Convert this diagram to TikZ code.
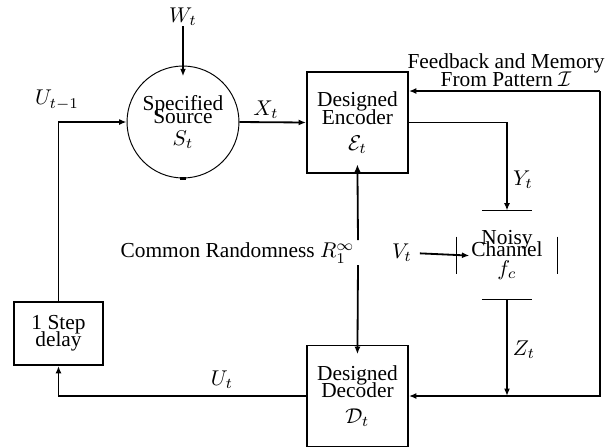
\documentclass[tikz,border=0pt]{standalone}
\usepackage[no-math]{fontspec}
\setmainfont{Liberation Serif}
\usetikzlibrary{arrows.meta,calc}
\begin{document}
\begin{tikzpicture}[x=0.468pt,y=-0.468pt,
  box/.style={draw,line width=0.85pt,minimum width=47.3pt,minimum height=47.3pt,inner sep=0pt,align=center},
  arr/.style={line width=0.85pt,-{Latex[length=3.5pt,width=2.8pt]}},
  lbl/.style={inner sep=0pt,align=center},
  ln/.style={line width=0.85pt}]
\useasboundingbox (0,0) rectangle (615,447);
\node[circle,draw,line width=0.45pt,minimum size=52.4pt,inner sep=0pt,align=center] (src) at (183,122) {Specified\\[-6pt]Source\\[-2pt]$S_t$};
\node[box] (enc) at (357.5,122.5) {Designed\\[-3.6pt]Encoder\\$\mathcal{E}_t$};
\node[box] (dec) at (357.5,396) {Designed\\[-3.6pt]Decoder\\$\mathcal{D}_t$};
\node[draw,line width=0.85pt,minimum width=41.7pt,minimum height=29.5pt,inner sep=0pt,align=center] (dl) at (58.5,333.5) {1 Step\\[-4pt]delay};
\node[minimum width=46.8pt,minimum height=41.2pt,inner sep=0pt,align=center] (ch) at (507,255) {Noisy\\[-6.4pt]Channel\\[-3pt]$f_c$};
\draw[ln] ($(ch.north)+(-25,0)$) -- ($(ch.north)+(25,0)$);
\draw[ln] ($(ch.south)+(-25,0)$) -- ($(ch.south)+(25,0)$);
\draw[ln] ($(ch.west)+(0,-18.5)$) -- ($(ch.west)+(0,18.5)$);
\draw[ln] ($(ch.east)+(0,-18.5)$) -- ($(ch.east)+(0,18.5)$);
\node[lbl] (wl) at (183,17) {$W_t$};
\node[lbl] (xl) at (266,110) {$X_t$};
\node[lbl] (ul) at (57,100) {$U_{t-1}$};
\node[lbl] (utl) at (222,380) {$U_t$};
\node[lbl] (yl) at (523,180) {$Y_t$};
\node[lbl] (zl) at (524,350) {$Z_t$};
\node[lbl] (vl) at (402,253) {$V_t$};
\node[lbl,anchor=east] (crl) at (355,253) {Common Randomness $R_1^\infty$};
\node[lbl] (fbl) at (506,70) {Feedback and Memory\\[-3.6pt]From Pattern $\mathcal{I}$};
\coordinate (fbt) at (600,91);
\coordinate (cru) at (358,240);
\coordinate (crd) at (358,265);
\draw[arr,shorten >=-5pt] (wl.south) -- (src.north);
\draw[arr] (src.east) -- (enc.west);
\draw[arr] (dl.north) |- (src.west);
\draw[arr] (dec.west) -| (dl.south);
\draw[arr] (enc.east) -| (ch.north);
\draw[arr] (ch.south) -- (ch.south |- dec.east);
\draw[arr] (fbt) -- (fbt -| enc.east);
\draw[arr] (fbt) |- (dec.east);
\draw[arr,shorten <=3.5pt,shorten >=-6pt] (vl.east) -- (ch.west);
\draw[arr,shorten >=-4.5pt] (cru) -- (enc.south);
\draw[arr,shorten >=-4.5pt] (crd) -- (dec.north);
\draw[line width=1pt] ($(src.south)+(-3,0)$) -- ($(src.south)+(3,0)$);
\end{tikzpicture}
\end{document}
